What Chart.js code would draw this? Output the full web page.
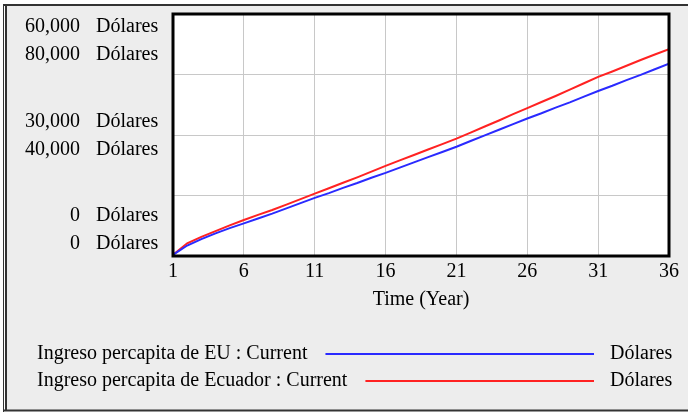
<!DOCTYPE html>
<html>
<head>
<meta charset="utf-8">
<script src="https://cdn.jsdelivr.net/npm/chart.js@4.4.1/dist/chart.umd.min.js"></script>
<style>
  html, body { margin: 0; padding: 0; background: #ffffff; }
  #wrap { width: 688px; height: 415px; }
</style>
</head>
<body>
<div id="wrap"><canvas id="chart" width="688" height="415"></canvas></div>
<script>
// time axis (years)
const years = [1, 2, 3, 4, 5, 6, 7, 8, 9, 10, 11, 12, 13, 14, 15, 16, 17, 18,
               19, 20, 21, 22, 23, 24, 25, 26, 27, 28, 29, 30, 31, 32, 33, 34, 35, 36];
const xTicks = [1, 6, 11, 16, 21, 26, 31, 36];

// Ingreso percapita de EU (left scale 0 - 60,000)
const ingresoEU = [300, 2600, 4200, 5600, 6900, 8100, 9300, 10500, 11800, 13100,
                   14400, 15600, 16900, 18100, 19400, 20600, 21900, 23200, 24500, 25800,
                   27100, 28500, 29900, 31300, 32700, 34100, 35400, 36800, 38100, 39500,
                   40900, 42200, 43600, 44900, 46300, 47700];

// Ingreso percapita de Ecuador (second scale 0 - 80,000)
const ingresoEcuador = [400, 4200, 6300, 8200, 10100, 11900, 13600, 15200, 17000, 18800,
                        20600, 22400, 24200, 26000, 27900, 29800, 31600, 33400, 35200, 37000,
                        38800, 40800, 42800, 44800, 46900, 48900, 50900, 52900, 55000, 57100,
                        59200, 61000, 62900, 64800, 66600, 68400];

const seriesNames = ['Ingreso percapita de EU : Current', 'Ingreso percapita de Ecuador : Current'];
const unitName = 'Dólares';
const euMax = 60000;
const ecMax = 80000;

const serif = "'Liberation Serif', 'Times New Roman', serif";

const toPoints = (vals) => years.map((t, i) => ({ x: t, y: vals[i] }));

// frame, y labels and legend drawn on the canvas
const vensimLook = {
    id: 'vensimLook',
    beforeDraw(chart) {
        const ctx = chart.ctx;
        ctx.save();
        ctx.fillStyle = '#ffffff';
        ctx.fillRect(0, 0, chart.width, chart.height);
        ctx.fillStyle = '#ededed';
        ctx.fillRect(6, 5, chart.width - 6, 405);
        ctx.strokeStyle = '#333333';
        ctx.lineWidth = 1;
        ctx.beginPath();
        ctx.moveTo(3.5, 4); ctx.lineTo(3.5, 412);
        ctx.stroke();
        ctx.lineWidth = 2;
        ctx.beginPath();
        ctx.moveTo(6, 5); ctx.lineTo(6, 411);
        ctx.moveTo(3, 5); ctx.lineTo(chart.width, 5);
        ctx.moveTo(3, 410.5); ctx.lineTo(chart.width, 410.5);
        ctx.stroke();
        const a = chart.chartArea;
        ctx.fillStyle = '#ffffff';
        ctx.fillRect(a.left, a.top, a.right - a.left, a.bottom - a.top);
        ctx.restore();
    },
    afterDatasetsDraw(chart) {
        const ctx = chart.ctx;
        const a = chart.chartArea;
        ctx.save();
        ctx.strokeStyle = '#000000';
        ctx.lineWidth = 3;
        ctx.strokeRect(a.left, a.top, a.right - a.left, a.bottom - a.top);

        // paired axis labels
        const y1 = chart.scales.y, y2 = chart.scales.y2;
        const fmt = (v) => v.toLocaleString('en-US');
        const mid = (a.top + a.bottom) / 2;
        const rows = [
            [fmt(y1.max), a.top + 13], [fmt(y2.max), a.top + 41],
            [fmt((y1.min + y1.max) / 2), mid - 13], [fmt((y2.min + y2.max) / 2), mid + 15],
            [fmt(y1.min), a.bottom - 40], [fmt(y2.min), a.bottom - 12]
        ];
        ctx.font = '20px ' + serif;
        ctx.fillStyle = '#000000';
        ctx.textBaseline = 'middle';
        rows.forEach(([txt, y]) => {
            ctx.textAlign = 'right';
            ctx.fillText(txt, 80, y);
            ctx.textAlign = 'left';
            ctx.fillText(unitName, 96, y);
        });

        // legend
        const legendY = [354, 381];
        chart.data.datasets.forEach((ds, i) => {
            const y = legendY[i];
            ctx.textAlign = 'left';
            ctx.fillStyle = '#000000';
            ctx.fillText(ds.label, 37, y);
            const w = ctx.measureText(ds.label).width;
            ctx.strokeStyle = ds.borderColor;
            ctx.lineWidth = 2;
            ctx.beginPath();
            ctx.moveTo(37 + w + 18, y);
            ctx.lineTo(594, y);
            ctx.stroke();
            ctx.fillText(unitName, 610, y);
        });
        ctx.restore();
    }
};

new Chart('chart', {
    type: 'line',
    data: {
        datasets: [{
            label: seriesNames[0],
            data: toPoints(ingresoEU),
            borderColor: '#2a2aff',
            borderWidth: 2,
            pointRadius: 0,
            tension: 0,
            yAxisID: 'y'
        }, {
            label: seriesNames[1],
            data: toPoints(ingresoEcuador),
            borderColor: '#ff2222',
            borderWidth: 2,
            pointRadius: 0,
            tension: 0,
            yAxisID: 'y2'
        }]
    },
    options: {
        responsive: false,
        animation: false,
        layout: { padding: { left: 173, right: 19, top: 14, bottom: 103 } },
        plugins: { legend: { display: false }, tooltip: { enabled: false } },
        scales: {
            x: {
                type: 'linear',
                min: 1,
                max: 36,
                afterBuildTicks: (axis) => { axis.ticks = xTicks.map(v => ({ value: v })); },
                grid: { color: '#c8c8c8', lineWidth: 1, drawTicks: false },
                border: { display: false },
                ticks: { color: '#000000', font: { family: serif, size: 20 }, padding: 4, maxRotation: 0 },
                title: { display: true, text: 'Time (Year)', color: '#000000',
                         font: { family: serif, size: 20 }, padding: { top: 0, bottom: 0 } }
            },
            y: {
                min: 0,
                max: euMax,
                ticks: { display: false, stepSize: 15000 },
                grid: { color: '#c8c8c8', lineWidth: 1, drawTicks: false },
                border: { display: false }
            },
            y2: {
                display: false,
                min: 0,
                max: ecMax
            }
        }
    },
    plugins: [vensimLook]
});
</script>
</body>
</html>
